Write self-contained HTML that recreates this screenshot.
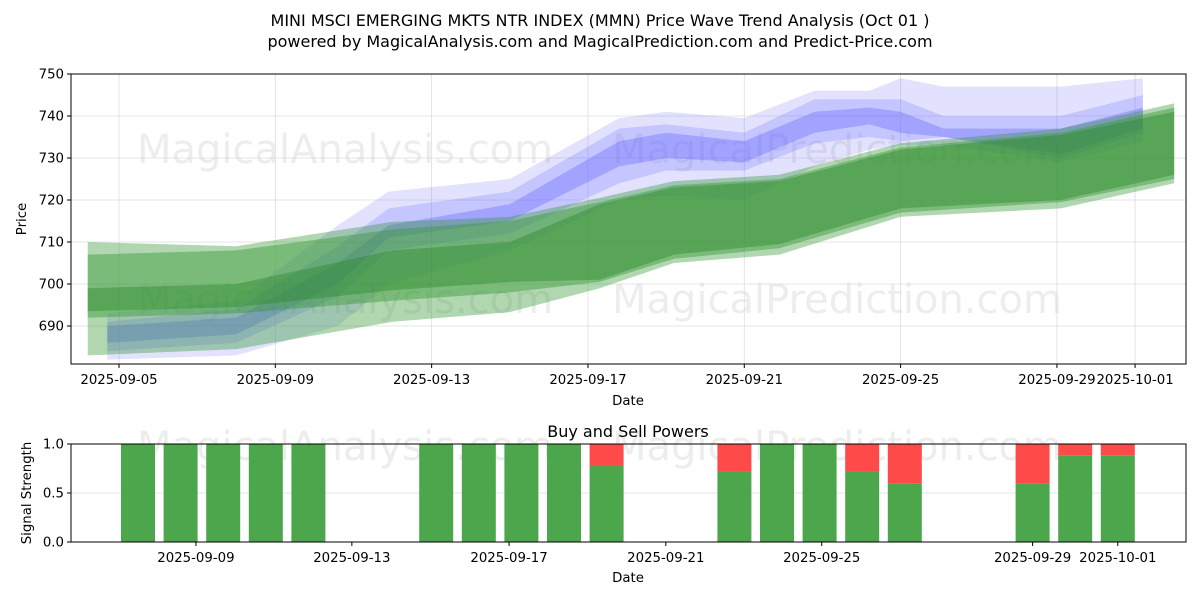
<!DOCTYPE html>
<html><head><meta charset="utf-8"><style>
body{margin:0;background:#fff;}
svg text{font-family:"DejaVu Sans","Liberation Sans",sans-serif;}
</style></head><body>
<svg id="c" width="1200" height="600" viewBox="0 0 1200 600" xmlns="http://www.w3.org/2000/svg">
<rect width="1200" height="600" fill="#fff"/>
<text x="600" y="26" font-size="16" text-anchor="middle">MINI MSCI EMERGING MKTS NTR INDEX (MMN) Price Wave Trend Analysis (Oct 01 )</text>
<text x="600" y="47" font-size="16" text-anchor="middle">powered by MagicalAnalysis.com and MagicalPrediction.com and Predict-Price.com</text>
<g id="topPanel"></g>
<g id="botPanel"></g>
</svg>
<script>
// ---- price chart data ----
const priceTicks = [690, 700, 710, 720, 730, 740, 750];
const dateTickLabels = ["2025-09-05","2025-09-09","2025-09-13","2025-09-17","2025-09-21","2025-09-25","2025-09-29","2025-10-01"];
const dateTickDays = [0, 4, 8, 12, 16, 20, 24, 26];
const greenDays = [-0.8, 3, 7, 10, 12.3, 14.2, 16.9, 20, 24.1, 27];
const greenOuterUp = [710, 709, 714.8, 716, 720.5, 724.5, 726, 733.5, 737, 743];
const greenOuterLo = [683, 684.5, 691, 693.3, 699, 705, 707, 716, 718, 724];
const greenMidUp = [707, 708, 713, 715, 719.5, 723.5, 725, 732.5, 736, 742];
const greenMidLo = [692, 693, 696, 698, 700.5, 706, 708.5, 717, 719.5, 725];
const greenCoreUp = [699, 700, 708, 710, 719, 723, 724.5, 732, 735.5, 741];
const greenCoreLo = [693.5, 694.5, 698.5, 700.5, 701, 707, 709.5, 718, 720, 726];
const blueDays = [-0.3, 3, 5.6, 6.9, 10, 12.8, 14, 16, 17.8, 19.2, 20, 21.1, 24.1, 26.2];
const blueOuterUp = [693, 696, 714, 722, 725, 739.5, 741, 739.5, 746, 746, 749, 747, 747, 749];
const blueOuterLo = [682, 683, 690, 700, 708, 720, 721, 720, 728, 732, 733, 733, 729, 734];
const blueMidUp = [691, 694, 709, 718, 722, 737, 738, 736, 744, 744, 744, 740, 740, 745];
const blueMidLo = [684, 686, 697, 708, 712, 724, 727, 727, 733.5, 735, 734, 735, 730, 736];
const blueCoreUp = [690, 692, 705, 714, 719, 734, 736, 734, 741, 742, 741, 737, 737, 742];
const blueCoreLo = [686, 688, 700, 711, 715, 728, 730, 729, 736, 738, 736, 735, 731, 737];
// ---- signal chart data ----
const barIndex = [0,1,2,3,4,7,8,9,10,11,14,15,16,17,18,21,22,23];
const buyPower = [1,1,1,1,1,1,1,1,1,0.78,0.72,1,1,0.72,0.6,0.6,0.88,0.88];
const sigTicks = [0, 0.5, 1.0];
const sigTickLabels = ["0.0","0.5","1.0"];
const sigDateLabels = ["2025-09-09","2025-09-13","2025-09-17","2025-09-21","2025-09-25","2025-09-29","2025-10-01"];
const sigDateIdx = [1.36, 5.02, 8.71, 12.39, 16.05, 21, 23];

const NS = "http://www.w3.org/2000/svg";
function mk(parent, tag, attrs, text){const e=document.createElementNS(NS,tag);for(const k in attrs)e.setAttribute(k,attrs[k]);if(text!==undefined)e.textContent=text;parent.appendChild(e);return e;}

const L=71,R=1186,T=74,B=364;
const xD = d => 119 + d*39.08;
const yP = v => 74 + (750-v)*4.2;
const topG=document.getElementById('topPanel');
priceTicks.forEach(v=>{const g=mk(topG,'line',{x1:L,x2:R,y1:yP(v),y2:yP(v),stroke:'#ddd','stroke-width':0.8});

});
dateTickDays.forEach(d=>{const g=mk(topG,'line',{x1:xD(d),x2:xD(d),y1:T,y2:B,stroke:'#ddd','stroke-width':0.8});

});
[[345,148,"MagicalAnalysis.com"],[837,148,"MagicalPrediction.com"],[345,298,"MagicalAnalysis.com"],[837,298,"MagicalPrediction.com"],[345,445,"MagicalAnalysis.com"],[837,445,"MagicalPrediction.com"]].forEach(w=>{
const t=mk(topG,'text',{x:w[0],y:w[1]+15,'font-size':40,'text-anchor':'middle',fill:'#d8d8d8','fill-opacity':0.45},w[2]);

});
function band(days,up,lo,color,op,name){
  let pts=days.map((d,i)=>xD(d)+','+yP(up[i]));
  for(let i=days.length-1;i>=0;i--)pts.push(xD(days[i])+','+yP(lo[i]));
  const p=mk(topG,'polygon',{points:pts.join(' '),fill:color,'fill-opacity':op});
  
  
}
band(blueDays,blueOuterUp,blueOuterLo,'#6f6fff',0.2,'blue-band-outer');
band(blueDays,blueMidUp,blueMidLo,'#6f6fff',0.25,'blue-band-mid');
band(blueDays,blueCoreUp,blueCoreLo,'#5a5aff',0.32,'blue-band-core');
band(greenDays,greenOuterUp,greenOuterLo,'#3a9a3a',0.4,'green-band-outer');
band(greenDays,greenMidUp,greenMidLo,'#3a9a3a',0.45,'green-band-mid');
band(greenDays,greenCoreUp,greenCoreLo,'#2e8b2e',0.45,'green-band-core');
const f=mk(topG,'rect',{x:L,y:T,width:R-L,height:B-T,fill:'none',stroke:'#000','stroke-width':1});


priceTicks.forEach(v=>{mk(topG,'line',{x1:L-4,x2:L,y1:yP(v),y2:yP(v),stroke:'#000'});
const t=mk(topG,'text',{x:L-7,y:yP(v)+4.5,'font-size':13.3,'text-anchor':'end'},String(v));

});
dateTickDays.forEach((d,i)=>{mk(topG,'line',{x1:xD(d),x2:xD(d),y1:B,y2:B+4,stroke:'#000'});
const t=mk(topG,'text',{x:xD(d),y:B+20,'font-size':13.3,'text-anchor':'middle'},dateTickLabels[i]);

});
const yt=mk(topG,'text',{x:26,y:219,'font-size':13.3,'text-anchor':'middle',transform:'rotate(-90 26 219)'},'Price');


const xt=mk(topG,'text',{x:628,y:405,'font-size':13.3,'text-anchor':'middle'},'Date');



const botG=document.getElementById('botPanel');
const BT=444,BB=542;
const xI = i => 138 + i*42.6;
const yS = v => BB - v*(BB-BT);
const bw=34;
const gl=mk(botG,'line',{x1:L,x2:R,y1:yS(0.5),y2:yS(0.5),stroke:'#ddd','stroke-width':0.8});


barIndex.forEach((idx,i)=>{
  const x=xI(idx)-bw/2;
  const g=mk(botG,'rect',{x:x,y:yS(buyPower[i]),width:bw,height:yS(0)-yS(buyPower[i]),fill:'#4ca64c'});
  
  
  const r=mk(botG,'rect',{x:x,y:yS(1),width:bw,height:yS(buyPower[i])-yS(1),fill:'#ff4a4a'});
  
  
});
const bf=mk(botG,'rect',{x:L,y:BT,width:R-L,height:BB-BT,fill:'none',stroke:'#000','stroke-width':1});


sigTicks.forEach((v,i)=>{mk(botG,'line',{x1:L-4,x2:L,y1:yS(v),y2:yS(v),stroke:'#000'});
const t=mk(botG,'text',{x:L-7,y:yS(v)+4.5,'font-size':13.3,'text-anchor':'end'},sigTickLabels[i]);

});
sigDateIdx.forEach((d,i)=>{mk(botG,'line',{x1:xI(d),x2:xI(d),y1:BB,y2:BB+4,stroke:'#000'});
const t=mk(botG,'text',{x:xI(d),y:BB+20,'font-size':13.3,'text-anchor':'middle'},sigDateLabels[i]);

});
const st=mk(botG,'text',{x:628,y:437,'font-size':16,'text-anchor':'middle'},'Buy and Sell Powers');


const sy=mk(botG,'text',{x:31,y:493,'font-size':13.3,'text-anchor':'middle',transform:'rotate(-90 31 493)'},'Signal Strength');


const sx=mk(botG,'text',{x:628,y:582,'font-size':13.3,'text-anchor':'middle'},'Date');


</script>
</body></html>
